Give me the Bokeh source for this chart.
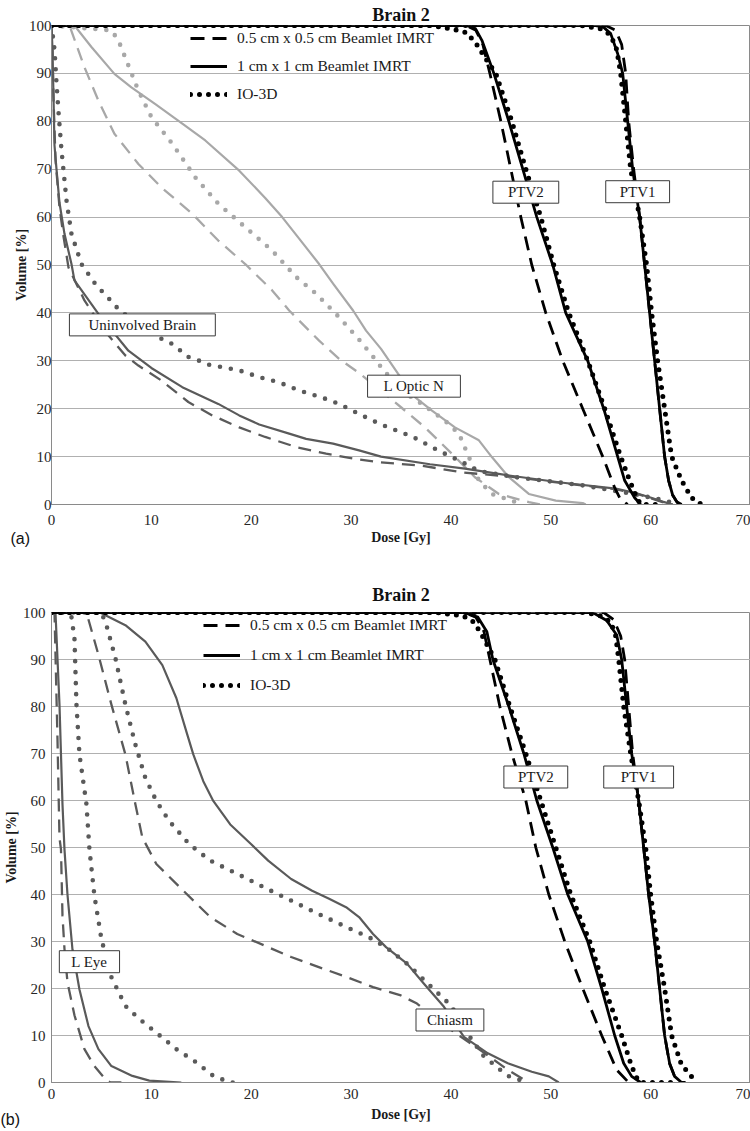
from bokeh.plotting import figure
from bokeh.models import Label, Legend, LegendItem, Range1d, FixedTicker, Title
from bokeh.layouts import column
from bokeh.embed import file_html
from bokeh.resources import INLINE

SERIF = "Liberation Serif"
SANS = "Liberation Sans"

# ---------------- shared texts / ticks ----------------
TITLE = "Brain 2"
X_LABEL = "Dose [Gy]"
Y_LABEL = "Volume [%]"
X_TICKS = [0, 10, 20, 30, 40, 50, 60, 70]
Y_TICKS = [0, 10, 20, 30, 40, 50, 60, 70, 80, 90, 100]
SERIES_NAMES = ["0.5 cm x 0.5 cm Beamlet IMRT", "1 cm x 1 cm Beamlet IMRT", "IO-3D"]

# ---------------- panel (a) ----------------
a_ptv1_fine_dose = [0, 55.5, 56.5, 57.1, 57.5, 57.8, 58.3, 58.9, 59.4, 59.9, 60.4, 60.9, 61.4, 61.8, 62.2, 62.8]
a_ptv1_fine_vol = [100, 100, 99, 96, 90, 80, 70, 60, 50, 40, 30, 20, 10, 5, 2, 0]
a_ptv1_coarse_dose = [0, 54.4, 55.3, 56.0, 56.7, 57.2, 57.7, 58.2, 58.9, 59.4, 59.9, 60.4, 60.9, 61.4, 61.8, 62.2, 62.6, 63.1]
a_ptv1_coarse_vol = [100, 100, 99.6, 98.3, 94.1, 90, 80, 70, 60, 50, 40, 30, 20, 10, 5, 2, 0.6, 0]
a_ptv1_io3d_dose = [0, 53.0, 55.0, 56.0, 56.6, 57.0, 57.5, 58.0, 58.9, 59.6, 60.1, 60.7, 61.4, 62.1, 63.1, 64.1, 65.1]
a_ptv1_io3d_vol = [100, 100, 99.3, 98, 95, 90, 80, 70, 60, 50, 40, 30, 20, 10, 5, 1.4, 0]

a_ptv2_fine_dose = [0, 41.5, 42.5, 43.2, 43.9, 45.0, 46.0, 47.0, 48.1, 49.5, 51.2, 53.2, 55.2, 56.4, 57.0, 57.7]
a_ptv2_fine_vol = [100, 100, 99, 96, 90, 80, 70, 60, 50, 40, 30, 20, 10, 3.5, 1, 0]
a_ptv2_coarse_dose = [0, 41.6, 42.5, 43.1, 43.7, 44.3, 45.8, 47.2, 48.6, 50.2, 51.5, 52.6, 53.7, 55.3, 56.7, 57.4, 58.4, 59.0]
a_ptv2_coarse_vol = [100, 100, 99.2, 96.9, 93.5, 90, 80, 70, 60, 50, 40, 35, 30, 20, 10, 5, 1.4, 0]
a_ptv2_io3d_dose = [0, 38.0, 40.0, 41.6, 42.6, 43.5, 44.5, 46.1, 47.5, 49.0, 50.3, 51.8, 53.7, 55.4, 57.0, 57.9, 58.6, 59.0, 60.5]
a_ptv2_io3d_vol = [100, 100, 99.3, 98.5, 96, 93, 90, 80, 70, 60, 50, 40, 30, 20, 10, 5, 1.5, 0, 0]

a_brain_fine_dose = [0, 0.1, 0.2, 0.4, 0.8, 1.2, 1.7, 3.3, 5.3, 7.4, 8.7, 11.0, 13.7, 16.1, 18.8, 21.4, 24.5, 27.5, 30.5, 32.9, 37.1, 41.1, 46.0, 51.0, 56.5, 58.5, 59.9, 61.2, 62.2]
a_brain_fine_vol = [100, 95, 85, 72, 62, 56, 49.5, 42.6, 36.3, 31.1, 29.0, 25.9, 21.4, 18.6, 16.1, 14.1, 12.0, 10.6, 9.5, 8.8, 8.1, 6.7, 5.8, 4.5, 3.2, 2.3, 1.4, 0.5, 0]
a_brain_coarse_dose = [0, 0.1, 0.2, 0.3, 0.5, 0.8, 1.3, 2.0, 2.3, 4.7, 7.7, 10.0, 13.1, 16.7, 18.8, 20.8, 23.8, 25.5, 28.2, 30.8, 33.0, 37.9, 41.4, 46.0, 51.0, 56.5, 58.5, 59.9, 61.2, 62.2]
a_brain_coarse_vol = [100, 95, 85, 75, 70, 63, 56.5, 50.2, 46.8, 39.8, 32.1, 28.5, 24.5, 21.0, 18.6, 16.7, 14.8, 13.7, 12.7, 11.3, 10.0, 8.4, 7.5, 6.0, 4.6, 3.3, 2.4, 1.5, 0.6, 0]
a_brain_io3d_dose = [0, 0.3, 0.5, 0.7, 1.0, 1.5, 2.0, 3.0, 4.5, 5.3, 6.0, 6.7, 9.0, 11.0, 12.1, 13.7, 14.7, 15.7, 16.8, 18.8, 20.8, 22.8, 24.8, 27.0, 28.8, 30.8, 32.9, 36.2, 38.7, 40.8, 42.8, 46.5, 53.2, 58.2, 61.6, 62.5]
a_brain_io3d_vol = [100, 95, 88, 82, 74, 63.5, 56.5, 50.2, 45.7, 44.0, 42.4, 40.8, 37.0, 34.6, 33.5, 30.8, 30.1, 29.2, 28.8, 28.0, 26.6, 25.5, 23.8, 22.4, 21.0, 18.9, 16.8, 14.1, 11.3, 9.2, 7.0, 5.7, 4.0, 2.2, 0.8, 0]

a_optic_fine_dose = [0, 1.8, 3.3, 4.7, 6.3, 8.7, 11.0, 14.1, 16.7, 19.4, 22.1, 23.8, 26.8, 28.8, 30.9, 35.0, 37.4, 40.1, 42.4, 44.8, 47.8, 49.0]
a_optic_fine_vol = [100, 100, 91.3, 84.3, 77.4, 71.1, 66.2, 60.7, 55.1, 50.2, 44.7, 40.5, 34.2, 30.4, 27.3, 20.3, 16.1, 10.6, 5.7, 2.2, 0.5, 0]
a_optic_coarse_dose = [0, 2.3, 4.0, 6.3, 8.0, 10.4, 13.1, 15.4, 18.8, 21.4, 23.1, 24.8, 26.8, 28.2, 30.2, 31.5, 33.0, 34.7, 36.4, 38.1, 40.4, 42.8, 44.1, 45.8, 47.8, 50.5, 53.2, 53.5]
a_optic_coarse_vol = [100, 100, 95.5, 89.9, 87.1, 83.6, 79.5, 76.0, 69.7, 64.0, 60.0, 55.5, 50.2, 46.1, 40.5, 36.3, 32.5, 27.3, 22.4, 19.6, 16.1, 13.4, 9.9, 5.7, 2.2, 0.8, 0.3, 0]
a_optic_io3d_dose = [0, 6.0, 6.7, 7.5, 8.7, 10.0, 12.1, 14.4, 16.7, 19.4, 22.1, 24.5, 26.5, 28.8, 30.9, 32.5, 33.0, 35.0, 37.1, 39.4, 40.8, 41.8, 42.8, 44.1, 46.1, 47.1]
a_optic_io3d_vol = [100, 99, 96.9, 92.7, 86.4, 80.9, 75.3, 68.3, 62.8, 57.9, 53.0, 47.5, 44.0, 39.1, 34.2, 30.1, 28.7, 23.8, 21.0, 17.5, 14.8, 9.9, 5.0, 2.2, 0.8, 0]

a_box_text = ["Uninvolved Brain", "L Optic N", "PTV2", "PTV1"]
a_box_dose = [9.1, 36.3, 47.5, 58.7]
a_box_vol = [37.5, 24.7, 65.2, 65.3]

# ---------------- panel (b) ----------------
b_ptv1_fine_dose = [0, 55.3, 56.3, 57.0, 57.4, 57.8, 58.2, 58.8, 59.3, 59.8, 60.4, 60.9, 61.4, 61.9, 62.4, 63.0]
b_ptv1_fine_vol = [100, 100, 98.5, 95, 90, 80, 70, 60, 50, 40, 30, 20, 10, 4, 1.3, 0]
b_ptv1_coarse_dose = [0, 54.2, 55.6, 56.6, 57.1, 57.6, 58.1, 58.8, 59.3, 59.8, 60.4, 60.9, 61.4, 61.9, 62.4, 63.1, 63.5]
b_ptv1_coarse_vol = [100, 100, 98.3, 95.2, 90, 80, 70, 60, 50, 40, 30, 20, 10, 4.1, 1.3, 0, 0]
b_ptv1_io3d_dose = [0, 53.5, 55.0, 56.0, 56.5, 56.8, 57.3, 58.0, 58.8, 59.5, 60.0, 60.6, 61.4, 62.1, 63.1, 63.7, 64.4]
b_ptv1_io3d_vol = [100, 100, 99.3, 98, 95, 90, 80, 70, 60, 50, 40, 30, 20, 10, 3.7, 2.3, 0.5]

b_ptv2_fine_dose = [0, 41.3, 42.5, 43.3, 43.9, 44.9, 46.1, 47.5, 48.5, 49.8, 51.4, 53.2, 55.1, 56.6, 57.8]
b_ptv2_fine_vol = [100, 100, 99, 96, 90, 80, 70, 60, 50, 40, 30, 20, 10, 2.7, 0]
b_ptv2_coarse_dose = [0, 41.3, 42.7, 43.6, 44.2, 45.8, 47.3, 48.6, 50.2, 51.7, 53.7, 55.1, 56.4, 57.3, 58.1, 59.0]
b_ptv2_coarse_vol = [100, 100, 99, 95.9, 90, 80, 70, 60, 50, 40, 30, 20, 10, 4.1, 1.3, 0]
b_ptv2_io3d_dose = [0, 38.5, 40.0, 41.2, 42.2, 42.9, 44.4, 45.9, 47.5, 49.0, 50.5, 52.0, 53.9, 55.4, 57.1, 58.0, 58.5, 59.0, 62.0]
b_ptv2_io3d_vol = [100, 100, 99.6, 99.3, 98.1, 96, 90, 80, 70, 60, 50, 40, 30, 20, 10, 4.1, 1.3, 0, 0]

b_chiasm_fine_dose = [0, 3.5, 4.7, 6.0, 7.4, 8.4, 9.1, 10.5, 13.2, 15.9, 18.6, 21.7, 24.0, 26.7, 29.5, 32.2, 34.9, 36.6, 38.6, 41.0, 43.4, 45.7, 47.8]
b_chiasm_fine_vol = [100, 100, 91.0, 80.4, 69.8, 59.2, 52.1, 46.5, 40.8, 35.2, 31.6, 28.8, 26.7, 24.6, 22.5, 20.3, 18.6, 16.8, 13.3, 9.7, 6.2, 2.7, 0]
b_chiasm_coarse_dose = [0, 4.85, 7.4, 9.4, 11.1, 12.5, 13.5, 14.2, 15.2, 16.2, 17.9, 20.0, 21.7, 24.0, 26.1, 27.8, 29.5, 30.8, 32.2, 33.5, 35.6, 37.3, 39.3, 41.3, 43.7, 45.7, 48.1, 49.8, 50.8]
b_chiasm_coarse_vol = [100, 100, 97.3, 93.8, 88.8, 81.8, 74.7, 69.8, 64.1, 59.9, 54.9, 50.7, 47.2, 43.3, 40.8, 39.1, 37.3, 35.2, 31.6, 28.8, 25.3, 21.0, 16.1, 9.7, 6.2, 4.1, 2.3, 1.3, 0]
b_chiasm_io3d_dose = [0, 5.0, 5.5, 6.4, 7.4, 8.4, 9.4, 10.5, 11.8, 13.8, 15.9, 18.6, 21.3, 24.0, 26.7, 29.5, 31.8, 33.5, 35.7, 38.6, 40.0, 41.7, 43.2, 45.6, 47.6]
b_chiasm_io3d_vol = [100, 100, 97.3, 90.3, 80.4, 71.9, 64.8, 59.9, 55.6, 50.7, 47.2, 44.4, 41.5, 38.7, 35.9, 33.1, 30.9, 28.8, 25.1, 19.2, 16.4, 10.3, 5.8, 1.5, 0]

b_eye_fine_dose = [0, 0.3, 0.6, 0.8, 0.95, 1.1, 1.3, 1.6, 2.3, 3.3, 4.3, 5.4, 5.9, 7.0]
b_eye_fine_vol = [100, 100, 73, 52, 49.6, 35.5, 28.4, 21.3, 14.3, 7.1, 3.5, 0.7, 0, 0]
b_eye_coarse_dose = [0, 0.4, 0.8, 1.1, 1.3, 1.6, 2.1, 2.8, 3.7, 4.7, 6.0, 8.1, 9.8, 13.0]
b_eye_coarse_vol = [100, 100, 80.4, 59.2, 49.6, 40.0, 28.3, 19.8, 12.0, 7.1, 3.5, 1.4, 0.4, 0]
b_eye_io3d_dose = [0, 1.5, 2.0, 2.3, 2.5, 2.8, 3.5, 3.8, 4.3, 5.0, 6.0, 7.4, 8.8, 10.5, 12.5, 14.5, 16.2, 17.9, 18.8]
b_eye_io3d_vol = [100, 100, 99, 94.5, 80.4, 69.8, 59.2, 49.6, 39.7, 30.5, 22.4, 16.3, 13.5, 10.6, 7.1, 4.3, 1.4, 0, 0]

b_box_text = ["L Eye", "Chiasm", "PTV2", "PTV1"]
b_box_dose = [3.8, 39.9, 48.5, 58.8]
b_box_vol = [25.7, 13.3, 65.0, 65.0]

# ---------------- styles ----------------
BLACK = "#000000"
DARK = "#5a5a5a"
LIGHT = "#a8a8a8"


def style(kind, color, heavy):
    if kind == "fine":
        return dict(line_color=color, line_width=2.8 if heavy else 2.3,
                    line_dash="14 8" if heavy else "13 8", line_cap="butt")
    if kind == "coarse":
        return dict(line_color=color, line_width=2.8 if heavy else 2.2)
    return dict(line_color=color, line_width=5 if heavy else 4.6,
                line_dash="0 9" if heavy else "0 11", line_cap="round")


def build(curves, boxes, box_pads, tag, height, mb_top, mb_bottom, y_std, yl_std,
          x_std, xl_std, title_standoff, tag_offset, tag_standoff, leg_loc, leg_spacing):
    p = figure(width=750, height=height, x_range=Range1d(0, 70), y_range=Range1d(0, 100),
               output_backend="svg", toolbar_location=None,
               min_border_top=mb_top, min_border_bottom=mb_bottom,
               min_border_left=10, min_border_right=0)
    p.background_fill_color = "white"
    p.border_fill_color = "white"
    p.outline_line_color = "#8a8a8a"
    p.xgrid.visible = False
    p.ygrid.grid_line_color = "#b0b0b0"
    p.ygrid.grid_line_width = 1
    p.xaxis.ticker = FixedTicker(ticks=X_TICKS)
    p.yaxis.ticker = FixedTicker(ticks=Y_TICKS)
    for ax in (p.xaxis, p.yaxis):
        ax.axis_line_color = "#8a8a8a"
        ax.major_tick_line_color = None
        ax.minor_tick_line_color = None
        ax.major_tick_in = 0
        ax.major_tick_out = 0
        ax.major_label_text_font = SERIF
        ax.major_label_text_font_size = "15px"
        ax.major_label_text_color = "#262626"
        ax.axis_label_text_font = SERIF
        ax.axis_label_text_font_style = "bold"
        ax.axis_label_text_font_size = "14px"
        ax.axis_label_text_color = "#1a1a1a"
    p.xaxis.axis_label = X_LABEL
    p.yaxis.axis_label = Y_LABEL
    p.xaxis.major_label_standoff = x_std
    p.xaxis.axis_label_standoff = xl_std
    p.yaxis.major_label_standoff = y_std
    p.yaxis.axis_label_standoff = yl_std

    p.title.text = TITLE
    p.title.align = "center"
    p.title.text_font = SERIF
    p.title.text_font_style = "bold"
    p.title.text_font_size = "18px"
    p.title.text_color = "#111111"
    p.title.standoff = title_standoff

    legend_renderers = {}
    for dose, vol, kind, color, heavy in curves:
        r = p.line(dose, vol, line_join="round", **style(kind, color, heavy))
        if heavy and kind not in legend_renderers:
            legend_renderers[kind] = r

    items = [LegendItem(label=SERIES_NAMES[i], renderers=[legend_renderers[k]])
             for i, k in enumerate(["fine", "coarse", "io3d"])]
    legend = Legend(items=items, location=leg_loc, label_text_font=SERIF,
                    label_text_font_size="15.5px", label_text_color="#1a1a1a",
                    glyph_width=37, glyph_height=20, label_height=20, label_standoff=10,
                    spacing=leg_spacing, padding=0, margin=0,
                    background_fill_alpha=0, border_line_color=None)
    p.add_layout(legend)

    texts, doses, vols = boxes
    for t, d, v, pad in zip(texts, doses, vols, box_pads):
        p.add_layout(Label(x=d, y=v, text=t, text_align="center", text_baseline="middle",
                           text_font=SERIF, text_font_size="15px", text_color="#1a1a1a",
                           background_fill_color="white", border_line_color="#3a3a3a",
                           border_line_width=1,
                           padding=dict(left=pad, right=pad, top=3, bottom=3)))

    p.add_layout(Title(text=tag, align="left", offset=tag_offset, vertical_align="top",
                       standoff=tag_standoff, text_font=SANS, text_font_style="normal",
                       text_font_size="16px", text_color="#111111"), "below")
    return p


curves_a = [
    (a_optic_fine_dose, a_optic_fine_vol, "fine", LIGHT, False),
    (a_optic_coarse_dose, a_optic_coarse_vol, "coarse", LIGHT, False),
    (a_optic_io3d_dose, a_optic_io3d_vol, "io3d", LIGHT, False),
    (a_brain_fine_dose, a_brain_fine_vol, "fine", DARK, False),
    (a_brain_coarse_dose, a_brain_coarse_vol, "coarse", DARK, False),
    (a_brain_io3d_dose, a_brain_io3d_vol, "io3d", DARK, False),
    (a_ptv2_fine_dose, a_ptv2_fine_vol, "fine", BLACK, True),
    (a_ptv2_coarse_dose, a_ptv2_coarse_vol, "coarse", BLACK, True),
    (a_ptv2_io3d_dose, a_ptv2_io3d_vol, "io3d", BLACK, True),
    (a_ptv1_fine_dose, a_ptv1_fine_vol, "fine", BLACK, True),
    (a_ptv1_coarse_dose, a_ptv1_coarse_vol, "coarse", BLACK, True),
    (a_ptv1_io3d_dose, a_ptv1_io3d_vol, "io3d", BLACK, True),
]
curves_b = [
    (b_eye_fine_dose, b_eye_fine_vol, "fine", DARK, False),
    (b_eye_coarse_dose, b_eye_coarse_vol, "coarse", DARK, False),
    (b_eye_io3d_dose, b_eye_io3d_vol, "io3d", DARK, False),
    (b_chiasm_fine_dose, b_chiasm_fine_vol, "fine", DARK, False),
    (b_chiasm_coarse_dose, b_chiasm_coarse_vol, "coarse", DARK, False),
    (b_chiasm_io3d_dose, b_chiasm_io3d_vol, "io3d", DARK, False),
    (b_ptv2_fine_dose, b_ptv2_fine_vol, "fine", BLACK, True),
    (b_ptv2_coarse_dose, b_ptv2_coarse_vol, "coarse", BLACK, True),
    (b_ptv2_io3d_dose, b_ptv2_io3d_vol, "io3d", BLACK, True),
    (b_ptv1_fine_dose, b_ptv1_fine_vol, "fine", BLACK, True),
    (b_ptv1_coarse_dose, b_ptv1_coarse_vol, "coarse", BLACK, True),
    (b_ptv1_io3d_dose, b_ptv1_io3d_vol, "io3d", BLACK, True),
]

pa = build(curves_a, (a_box_text, a_box_dose, a_box_vol), [19, 16, 15, 14], "(a)",
           height=570, mb_top=25, mb_bottom=66, y_std=0, yl_std=-3, x_std=10, xl_std=2,
           title_standoff=2, tag_offset=-41, tag_standoff=-36,
           leg_loc=(139, 400), leg_spacing=8)
pb = build(curves_b, (b_box_text, b_box_dose, b_box_vol), [12, 11, 14, 17], "(b)",
           height=561, mb_top=42, mb_bottom=49, y_std=6, yl_std=1, x_std=6, xl_std=5,
           title_standoff=16, tag_offset=-51, tag_standoff=-28,
           leg_loc=(152, 387), leg_spacing=10)

layout = column(pa, pb, spacing=0)
open("out.html", "w").write(file_html(layout, INLINE))
